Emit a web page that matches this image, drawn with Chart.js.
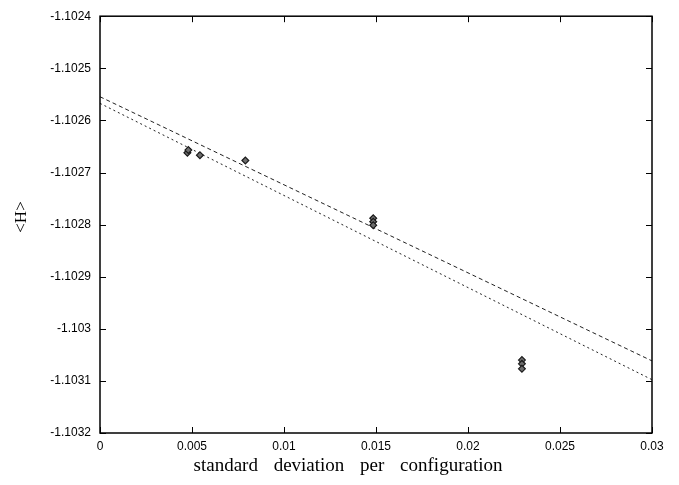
<!DOCTYPE html>
<html>
<head>
<meta charset="utf-8">
<script src="https://cdn.jsdelivr.net/npm/chart.js@4/dist/chart.umd.min.js"></script>
<style>
    html, body { margin: 0; padding: 0; background: #ffffff; }
    #wrap { width: 679px; height: 485px; }
</style>
</head>
<body>
<div id="wrap"><canvas id="chart" width="679" height="485"></canvas></div>
<script>
// Measured points (x = standard deviation per configuration, y = <H>)
const pointX = [0.00475, 0.0048, 0.00543, 0.0079, 0.01485, 0.01485, 0.01485, 0.02293, 0.02293, 0.02293];
const pointY = [-1.102662, -1.102657, -1.1026667, -1.102677, -1.1027878, -1.1027945, -1.1028011, -1.103060, -1.1030673, -1.1030768];

// Two linear fits, given by their ends
const fitX = [0, 0.03];
const fitDashedY = [-1.1025546, -1.1030616];
const fitDottedY = [-1.1025673, -1.1030977];

// Axis ticks
const xTickValues = [0, 0.005, 0.01, 0.015, 0.02, 0.025, 0.03];
const xTickLabels = ['0', '0.005', '0.01', '0.015', '0.02', '0.025', '0.03'];
const yTickValues = [-1.1032, -1.1031, -1.103, -1.1029, -1.1028, -1.1027, -1.1026, -1.1025, -1.1024];
const yTickLabels = ['-1.1032', '-1.1031', '-1.103', '-1.1029', '-1.1028', '-1.1027', '-1.1026', '-1.1025', '-1.1024'];

const xTitle = 'standard deviation per configuration';
const yTitle = '<H>';

const toXY = (xs, ys) => xs.map((x, i) => ({ x: x, y: ys[i] }));

// Frame, inward ticks and axis titles
const framePlugin = {
    id: 'frame',
    afterDraw(chart) {
        const ctx = chart.ctx;
        const a = chart.chartArea;
        const xs = chart.scales.x;
        const ys = chart.scales.y;
        const len = 6;
        ctx.save();
        ctx.strokeStyle = '#000';
        ctx.lineWidth = 1.5;
        ctx.strokeRect(a.left, a.top, a.right - a.left, a.bottom - a.top);
        ctx.lineWidth = 1;
        ctx.beginPath();
        xTickValues.forEach(v => {
            const px = Math.round(xs.getPixelForValue(v)) + 0.5;
            ctx.moveTo(px, a.bottom); ctx.lineTo(px, a.bottom - len);
            ctx.moveTo(px, a.top); ctx.lineTo(px, a.top + len);
        });
        yTickValues.forEach(v => {
            const py = Math.round(ys.getPixelForValue(v)) + 0.5;
            ctx.moveTo(a.left, py); ctx.lineTo(a.left + len, py);
            ctx.moveTo(a.right, py); ctx.lineTo(a.right - len, py);
        });
        ctx.stroke();

        ctx.fillStyle = '#000';
        ctx.font = '19px "Liberation Serif", "DejaVu Serif", serif';
        ctx.textAlign = 'center';
        ctx.textBaseline = 'middle';
        ctx.wordSpacing = '11px';
        ctx.fillText(xTitle, 348, 466);
        ctx.wordSpacing = '0px';

        ctx.font = '17px "Liberation Serif", "DejaVu Serif", serif';
        ctx.translate(22, 217);
        ctx.rotate(-Math.PI / 2);
        ctx.fillText(yTitle, 0, 0);
        ctx.restore();
    }
};

const ctx = document.getElementById('chart').getContext('2d');
new Chart(ctx, {
    type: 'scatter',
    data: {
        datasets: [
            {
                label: 'data',
                data: toXY(pointX, pointY),
                pointStyle: 'rectRot',
                pointRadius: 3.4,
                pointBorderWidth: 1.2,
                pointBorderColor: '#1a1a1a',
                pointBackgroundColor: '#6e6e6e',
                showLine: false
            },
            {
                label: 'fit 1',
                data: toXY(fitX, fitDashedY),
                showLine: true,
                borderColor: '#222',
                borderWidth: 1,
                borderDash: [4, 3],
                pointRadius: 0
            },
            {
                label: 'fit 2',
                data: toXY(fitX, fitDottedY),
                showLine: true,
                borderColor: '#222',
                borderWidth: 1,
                borderDash: [2, 3],
                pointRadius: 0
            }
        ]
    },
    options: {
        responsive: false,
        animation: false,
        layout: { padding: { top: 12, right: 27, left: 0, bottom: 0 } },
        plugins: {
            legend: { display: false },
            tooltip: { enabled: false }
        },
        scales: {
            x: {
                type: 'linear',
                min: 0,
                max: 0.03,
                grid: { display: false, drawTicks: false },
                border: { display: false },
                afterBuildTicks: scale => { scale.ticks = xTickValues.map(v => ({ value: v })); },
                afterFit: scale => { scale.height = 52; },
                ticks: {
                    autoSkip: false,
                    maxRotation: 0,
                    padding: 6,
                    color: '#000',
                    font: { family: '"Liberation Sans", Arial, sans-serif', size: 12 },
                    callback: (v, i) => xTickLabels[i]
                }
            },
            y: {
                type: 'linear',
                min: -1.1032,
                max: -1.1024,
                grid: { display: false, drawTicks: false },
                border: { display: false },
                afterBuildTicks: scale => { scale.ticks = yTickValues.map(v => ({ value: v })); },
                afterFit: scale => { scale.width = 100; },
                ticks: {
                    autoSkip: false,
                    padding: 9,
                    color: '#000',
                    font: { family: '"Liberation Sans", Arial, sans-serif', size: 12 },
                    callback: (v, i) => yTickLabels[i]
                }
            }
        }
    },
    plugins: [framePlugin]
});
</script>
</body>
</html>
